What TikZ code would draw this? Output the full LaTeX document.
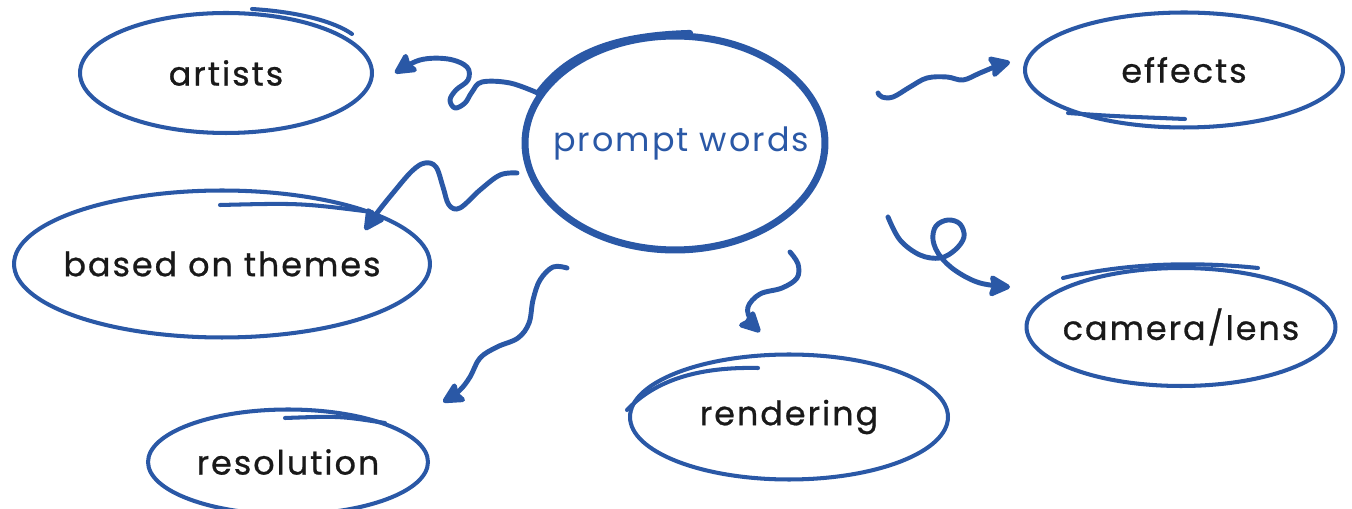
\documentclass[tikz,border=0pt]{standalone}
\usepackage{fontspec}
\setmainfont{Poppins}[LetterSpace=6]
\newfontfamily\handfont{Poppins}[LetterSpace=6,FakeBold=0.8]
\usetikzlibrary{shapes.geometric,arrows.meta}
\definecolor{penblue}{RGB}{42,88,166}

\begin{document}
\begin{tikzpicture}[x=0.02cm,y=-0.02cm,
    bubble/.style={ellipse,draw=penblue,line width=2.3pt,inner ysep=0pt,inner xsep=-1cm,
      text=black!90,font=\handfont\fontsize{19}{22}\selectfont},
    squiggle/.style={penblue,line width=2.8pt,line cap=round,line join=round,
      -{Stealth[length=14pt,width=14pt,inset=2pt,round]}},
    pen/.style={penblue,line width=2.3pt,line cap=round}]
  \useasboundingbox (0,0) rectangle (1352,509);
  % the bubbles
  \node[bubble,line width=4pt,minimum width=6cm,minimum height=4.28cm,
    text=penblue,font=\rmfamily\fontsize{19}{22}\selectfont] (prompt) at (675,143)
    {\hspace*{0.25cm}prompt words};
  \node[bubble,minimum width=5.84cm,minimum height=2.4cm] (artists) at (226,73) {artists};
  \node[bubble,minimum width=6.36cm,minimum height=2.3cm] (effects) at (1184,70) {effects};
  \node[bubble,minimum width=8.32cm,minimum height=2.94cm] (themes) at (222,264) {based on themes};
  \node[bubble,minimum width=6.18cm,minimum height=2.36cm] (camera) at (1181,327) {camera/lens};
  \node[bubble,minimum width=6.36cm,minimum height=2.5cm] (rendering) at (789,417) {rendering};
  \node[bubble,minimum width=5.6cm,minimum height=2.1cm] (resolution) at (288,462) {resolution};
  % second pen strokes
  \draw[pen,line width=3.5pt] (prompt.160) .. controls (570,50) and (620,35) .. (690,33);
  \draw[pen] (252,9) .. controls (300,12) and (335,22) .. (352,34);
  \draw[pen] (1068,113) .. controls (1110,116) .. (1185,119);
  \draw[pen] (220,205) .. controls (300,203) .. (372,212);
  \draw[pen] (1063,278) .. controls (1130,262) and (1200,262) .. (1258,268);
  \draw[pen] (627,410) .. controls (660,375) and (710,367) .. (758,368);
  \draw[pen] (285,418) .. controls (340,416) .. (385,423);
  % loose ends of the arrows
  \coordinate (s2) at (517,173);
  \coordinate (s3) at (878,93);
  \coordinate (s4) at (888,217);
  \coordinate (s5) at (790,252);
  \coordinate (s6) at (567,268);
  \coordinate (toartists) at (395,73);
  \coordinate (tothemes) at (365,230);
  \coordinate (toeffects) at (1010,62);
  \coordinate (tocamera) at (1010,287);
  \coordinate (torendering) at (760,332);
  \coordinate (toresolution) at (443,402);
  % arrows
  \draw[squiggle] plot[smooth,tension=0.6] coordinates {(prompt.160) (510,83) (482,82)
    (472,92) (465,103) (455,108) (450,100) (456,90) (468,80) (467,67) (448,59) (420,60)
    (toartists)};
  \draw[squiggle] plot[smooth,tension=0.6] coordinates {(s2) (500,175) (480,190) (460,208)
    (449,205) (443,187) (436,167) (425,163) (412,171) (393,193) (377,213) (tothemes)};
  \draw[squiggle] plot[smooth,tension=0.6] coordinates {(s3) (882,97) (893,97) (910,87)
    (927,78) (947,77) (963,80) (980,73) (997,66) (toeffects)};
  \draw[squiggle] plot[smooth,tension=0.6] coordinates {(s4) (900,240) (920,255) (940,258)
    (955,250) (964,237) (960,224) (948,220) (936,226) (933,240) (940,256) (956,271)
    (980,283) (tocamera)};
  \draw[squiggle] plot[smooth,tension=0.6] coordinates {(s5) (798,264) (797,278) (782,288)
    (760,294) (748,307) (751,321) (torendering)};
  \draw[squiggle] plot[smooth,tension=0.6] coordinates {(s6) (553,267) (540,280) (533,300)
    (529,323) (518,338) (497,347) (480,358) (470,377) (459,391) (toresolution)};
\end{tikzpicture}
\end{document}
